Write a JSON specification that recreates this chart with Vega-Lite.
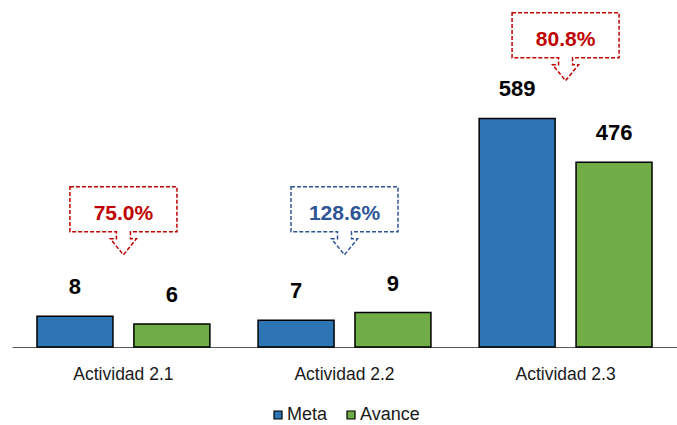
{
  "$schema": "https://vega.github.io/schema/vega-lite/v6.json",
  "width": 665,
  "height": 347,
  "autosize": {"type": "none"},
  "padding": {"left": 12, "top": 0, "right": 0, "bottom": 78},
  "background": "white",
  "config": {
    "view": {"stroke": null},
    "font": "Liberation Sans",
    "axisX": {
      "domainColor": "#595959",
      "domainWidth": 1,
      "ticks": false,
      "grid": false,
      "labelFont": "Liberation Sans",
      "labelFontSize": 17.5,
      "labelColor": "#1a1a1a",
      "labelPadding": 18,
      "labelAngle": 0
    }
  },
  "datasets": {
    "bars": [
      {"actividad": "Actividad 2.1", "serie": "Meta", "valor": 8},
      {"actividad": "Actividad 2.1", "serie": "Avance", "valor": 6},
      {"actividad": "Actividad 2.2", "serie": "Meta", "valor": 7},
      {"actividad": "Actividad 2.2", "serie": "Avance", "valor": 9},
      {"actividad": "Actividad 2.3", "serie": "Meta", "valor": 589},
      {"actividad": "Actividad 2.3", "serie": "Avance", "valor": 476}
    ],
    "callouts": [
      {"actividad": "Actividad 2.1", "pct": 0.75},
      {"actividad": "Actividad 2.2", "pct": 1.286},
      {"actividad": "Actividad 2.3", "pct": 0.808}
    ]
  },
  "resolve": {"scale": {"y": "independent"}},
  "layer": [
    {
      "data": {"name": "bars"},
      "transform": [{"filter": "datum.actividad != 'Actividad 2.3'"}],
      "layer": [
        {
          "mark": {"type": "bar", "stroke": "black", "strokeWidth": 1.5},
          "encoding": {
            "x": {"field": "actividad", "type": "nominal", "title": null, "scale": {"domain": ["Actividad 2.1", "Actividad 2.2", "Actividad 2.3"], "paddingInner": 0.218, "paddingOuter": 0.113}},
            "xOffset": {"field": "serie", "type": "nominal", "scale": {"domain": ["Meta", "Avance"], "paddingInner": 0.216, "paddingOuter": 0}},
            "y": {"field": "valor", "type": "quantitative", "axis": null, "scale": {"domain": [0, 90.6], "nice": false, "zero": true}},
            "fill": {"field": "serie", "type": "nominal", "scale": {"domain": ["Meta", "Avance"], "range": ["#2E75B6", "#70AD47"]},
              "legend": {"title": null, "orient": "none", "legendX": 257, "legendY": 406, "direction": "horizontal", "symbolType": "square", "symbolSize": 64, "symbolStrokeColor": "black", "symbolStrokeWidth": 1.2, "labelFontSize": 18, "labelFont": "Liberation Sans", "labelColor": "#1a1a1a", "labelOffset": 0, "columnPadding": 14, "padding": 0}}
          }
        },
        {
          "mark": {"type": "text", "fontWeight": "bold", "fontSize": 22, "baseline": "middle", "dy": -29, "color": "black"},
          "encoding": {
            "x": {"field": "actividad", "type": "nominal", "title": null, "scale": {"domain": ["Actividad 2.1", "Actividad 2.2", "Actividad 2.3"], "paddingInner": 0.218, "paddingOuter": 0.113}},
            "xOffset": {"field": "serie", "type": "nominal", "scale": {"domain": ["Meta", "Avance"], "paddingInner": 0.216, "paddingOuter": 0}},
            "y": {"field": "valor", "type": "quantitative", "axis": null, "scale": {"domain": [0, 90.6], "nice": false, "zero": true}},
            "text": {"field": "valor", "type": "quantitative"}
          }
        },
        {
          "transform": [
            {"joinaggregate": [{"op": "max", "field": "valor", "as": "tope"}]},
            {"filter": "datum.serie == 'Meta'"},
            {"lookup": "actividad", "from": {"data": {"name": "callouts"}, "key": "actividad", "fields": ["pct"]}}
          ],
          "layer": [
            {
              "mark": {"type": "point", "shape": "M -53.5 -68 L 53.5 -68 L 53.5 -23 L 7 -23 L 7 -16 L 13 -16 L 0 0 L -13 -16 L -7 -16 L -7 -23 L -53.5 -23 Z", "size": 4, "filled": true, "fill": "white", "opacity": 1, "strokeWidth": 1.5, "strokeDash": [4, 2], "yOffset": -57.7},
              "encoding": {
                "x": {"field": "actividad", "type": "nominal", "title": null, "scale": {"domain": ["Actividad 2.1", "Actividad 2.2", "Actividad 2.3"], "paddingInner": 0.218, "paddingOuter": 0.113}},
                "y": {"field": "tope", "type": "quantitative", "axis": null, "scale": {"domain": [0, 90.6], "nice": false, "zero": true}},
                "stroke": {"condition": {"test": "datum.pct > 1", "value": "#2F5597"}, "value": "#C00000"}
              }
            },
            {
              "mark": {"type": "text", "fontWeight": "bold", "fontSize": 21, "baseline": "middle", "yOffset": -98.7},
              "encoding": {
                "x": {"field": "actividad", "type": "nominal", "title": null, "scale": {"domain": ["Actividad 2.1", "Actividad 2.2", "Actividad 2.3"], "paddingInner": 0.218, "paddingOuter": 0.113}},
                "y": {"field": "tope", "type": "quantitative", "axis": null, "scale": {"domain": [0, 90.6], "nice": false, "zero": true}},
                "text": {"field": "pct", "type": "quantitative", "format": ".1%"},
                "color": {"condition": {"test": "datum.pct > 1", "value": "#2F5597"}, "value": "#C00000"}
              }
            }
          ]
        }
      ]
    },
    {
      "data": {"name": "bars"},
      "transform": [{"filter": "datum.actividad == 'Actividad 2.3'"}],
      "layer": [
        {
          "mark": {"type": "bar", "stroke": "black", "strokeWidth": 1.5},
          "encoding": {
            "x": {"field": "actividad", "type": "nominal", "title": null, "scale": {"domain": ["Actividad 2.1", "Actividad 2.2", "Actividad 2.3"], "paddingInner": 0.218, "paddingOuter": 0.113}},
            "xOffset": {"field": "serie", "type": "nominal", "scale": {"domain": ["Meta", "Avance"], "paddingInner": 0.216, "paddingOuter": 0}},
            "y": {"field": "valor", "type": "quantitative", "axis": null, "scale": {"domain": [0, 894], "nice": false, "zero": true}},
            "fill": {"field": "serie", "type": "nominal", "scale": {"domain": ["Meta", "Avance"], "range": ["#2E75B6", "#70AD47"]},
              "legend": {"title": null, "orient": "none", "legendX": 257, "legendY": 406, "direction": "horizontal", "symbolType": "square", "symbolSize": 64, "symbolStrokeColor": "black", "symbolStrokeWidth": 1.2, "labelFontSize": 18, "labelFont": "Liberation Sans", "labelColor": "#1a1a1a", "labelOffset": 0, "columnPadding": 14, "padding": 0}}
          }
        },
        {
          "mark": {"type": "text", "fontWeight": "bold", "fontSize": 22, "baseline": "middle", "dy": -29, "color": "black"},
          "encoding": {
            "x": {"field": "actividad", "type": "nominal", "title": null, "scale": {"domain": ["Actividad 2.1", "Actividad 2.2", "Actividad 2.3"], "paddingInner": 0.218, "paddingOuter": 0.113}},
            "xOffset": {"field": "serie", "type": "nominal", "scale": {"domain": ["Meta", "Avance"], "paddingInner": 0.216, "paddingOuter": 0}},
            "y": {"field": "valor", "type": "quantitative", "axis": null, "scale": {"domain": [0, 894], "nice": false, "zero": true}},
            "text": {"field": "valor", "type": "quantitative"}
          }
        },
        {
          "transform": [
            {"joinaggregate": [{"op": "max", "field": "valor", "as": "tope"}]},
            {"filter": "datum.serie == 'Meta'"},
            {"lookup": "actividad", "from": {"data": {"name": "callouts"}, "key": "actividad", "fields": ["pct"]}}
          ],
          "layer": [
            {
              "mark": {"type": "point", "shape": "M -53.5 -68 L 53.5 -68 L 53.5 -23 L 7 -23 L 7 -16 L 13 -16 L 0 0 L -13 -16 L -7 -16 L -7 -23 L -53.5 -23 Z", "size": 4, "filled": true, "fill": "white", "opacity": 1, "strokeWidth": 1.5, "strokeDash": [4, 2], "yOffset": -37.7},
              "encoding": {
                "x": {"field": "actividad", "type": "nominal", "title": null, "scale": {"domain": ["Actividad 2.1", "Actividad 2.2", "Actividad 2.3"], "paddingInner": 0.218, "paddingOuter": 0.113}},
                "y": {"field": "tope", "type": "quantitative", "axis": null, "scale": {"domain": [0, 894], "nice": false, "zero": true}},
                "stroke": {"condition": {"test": "datum.pct > 1", "value": "#2F5597"}, "value": "#C00000"}
              }
            },
            {
              "mark": {"type": "text", "fontWeight": "bold", "fontSize": 21, "baseline": "middle", "yOffset": -78.7},
              "encoding": {
                "x": {"field": "actividad", "type": "nominal", "title": null, "scale": {"domain": ["Actividad 2.1", "Actividad 2.2", "Actividad 2.3"], "paddingInner": 0.218, "paddingOuter": 0.113}},
                "y": {"field": "tope", "type": "quantitative", "axis": null, "scale": {"domain": [0, 894], "nice": false, "zero": true}},
                "text": {"field": "pct", "type": "quantitative", "format": ".1%"},
                "color": {"condition": {"test": "datum.pct > 1", "value": "#2F5597"}, "value": "#C00000"}
              }
            }
          ]
        }
      ]
    }
  ]
}
